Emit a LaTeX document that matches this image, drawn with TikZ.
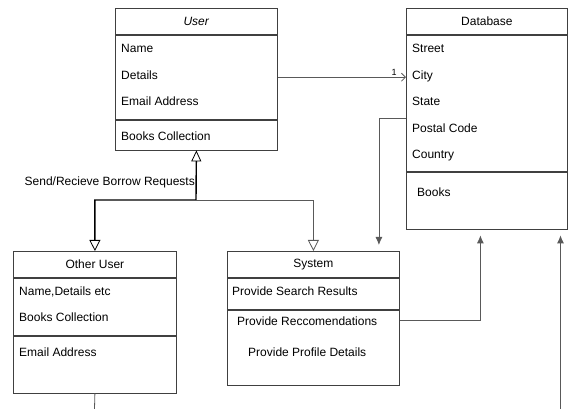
\documentclass[tikz,border=0pt]{standalone}
\usepackage{fontspec}
\setmainfont{Liberation Sans}
\usetikzlibrary{positioning, arrows.meta}

\tikzset{
  classpart/.style={draw=black!75, line width=0.8pt, rectangle, inner sep=0pt, anchor=north west, font=\fontsize{12}{14}\selectfont},
  member/.style={anchor=west, inner sep=0pt, text height=8.6pt, text depth=0pt, font=\fontsize{12}{14}\selectfont},
  link/.style={draw=black!65, line width=0.8pt},
  gentip/.tip={Triangle[open, length=11pt, width=11pt, line width=0.8pt]},
  filltip/.tip={Latex[length=8pt, width=7pt]},
}

\begin{document}
\begin{tikzpicture}[x=1pt, y=-1pt]
    \useasboundingbox (0,0) rectangle (571,409);

    % User class
    \node[classpart, minimum width=162pt, minimum height=26pt] (userhead) at (115,8) {\textit{User}};
    \node[classpart, minimum width=162pt, minimum height=84pt] (userattr) at (userhead.south west) {};
    \node[classpart, minimum width=162pt, minimum height=30pt] (userbooks) at (userattr.south west) {};
    \node[member] (username) at (121,48) {Name};
    \node[member] (userdetails) at (121,75) {Details};
    \node[member] (useremail) at (121,101) {Email Address};
    \node[member] (usercoll) at (121,136) {Books Collection};

    % Database class
    \node[classpart, minimum width=161pt, minimum height=26pt] (dbhead) at (406,8) {Database};
    \node[classpart, minimum width=161pt, minimum height=136pt] (dbattr) at (dbhead.south west) {};
    \node[classpart, minimum width=161pt, minimum height=57pt] (dbfoot) at (dbattr.south west) {};
    \node[member] (dbstreet) at (412,48) {Street};
    \node[member] (dbcity) at (412,75) {City};
    \node[member] (dbstate) at (412,101) {State};
    \node[member] (dbpostal) at (412,128) {Postal Code};
    \node[member] (dbcountry) at (412,154) {Country};
    \node[member] (dbbooks) at (417,192) {Books};

    % Other User class
    \node[classpart, minimum width=163pt, minimum height=26pt] (otherhead) at (13,251) {Other User};
    \node[classpart, minimum width=163pt, minimum height=57pt] (otherattr) at (otherhead.south west) {};
    \node[classpart, minimum width=163pt, minimum height=57pt] (otherlower) at (otherattr.south west) {};
    \node[member] (othername) at (19,291) {Name,Details etc};
    \node[member] (othercoll) at (19,317) {Books Collection};
    \node[member] (otheremail) at (19,352) {Email Address};

    % System class
    \node[classpart, minimum width=172pt, minimum height=26pt] (syshead) at (227,251) {System};
    \node[classpart, minimum width=172pt, minimum height=31pt] (sysattr) at (syshead.south west) {};
    \node[classpart, minimum width=172pt, minimum height=75pt] (syslower) at (sysattr.south west) {};
    \node[member] (syssearch) at (232,291) {Provide Search Results};
    \node[member] (sysrecom) at (237,321) {Provide Reccomendations};
    \node[member] (sysprofile) at (248,352) {Provide Profile Details};

    % Association User -> Database
    \draw[link, -{Straight Barb[length=4pt, width=8pt]}] (userattr.east) -- (userattr.east -| dbattr.west)
        node[pos=1, anchor=south east, inner sep=1pt, xshift=-8pt, font=\fontsize{9}{10}\selectfont] {1};

    % Borrow requests
    \coordinate (split) at (196,200);
    \draw[link, draw=black, line width=1.4pt, {Triangle[open, length=11pt, width=10pt, line width=0.8pt]}-{Triangle[open, length=11pt, width=11pt, line width=0.8pt]}]
        (userbooks.south) -- (split) -| (otherhead.north);
    \draw[link, -gentip] (split) -| (syshead.north);
    \node[member, anchor=east] (borrowlbl) at (195,181) {Send/Recieve Borrow Requests};

    % Database <-> System
    \draw[link, -filltip, shorten >=6pt] ([yshift=-15pt]dbattr.west) -| ([xshift=65.5pt]syshead.north);
    \draw[link, -filltip, shorten >=6pt] ([yshift=27pt]syslower.east) -| ([xshift=-6.5pt]dbfoot.south);

    % Loose ends
    \coordinate (otherexit) at (94.5,409);
    \coordinate (dbentry) at (560.5,409);
    \draw[link] (otherlower.south) -- (otherexit);
    \draw[link, -filltip, shorten >=6pt] (dbentry) -- (dbentry |- dbfoot.south);
\end{tikzpicture}
\end{document}
